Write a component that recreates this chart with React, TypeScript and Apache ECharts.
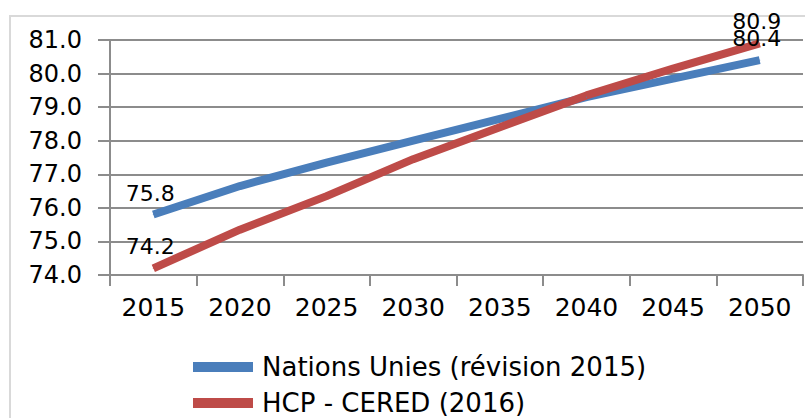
import React, { useEffect, useRef } from "react";
import * as echarts from "echarts";

const years = ["2015", "2020", "2025", "2030", "2035", "2040", "2045", "2050"];
const nationsUnies = [75.8, 76.65, 77.35, 78.0, 78.65, 79.3, 79.85, 80.4];
const hcpCered = [74.2, 75.35, 76.35, 77.45, 78.4, 79.35, 80.15, 80.9];
const seriesNames = ["Nations Unies (révision 2015)", "HCP - CERED (2016)"];
const seriesColors = ["#4a7ebb", "#be4b48"];

const FONT = "DejaVu Sans";
const GRID_GRAY = "#8c8c8c";

function withEndLabels(values: number[]) {
  return values.map((v, i) => ({
    value: v,
    label: { show: i === 0 || i === values.length - 1 },
  }));
}

export default function App() {
  const ref = useRef<HTMLDivElement>(null);
  useEffect(() => {
    document.body.style.margin = "0";
    const chart = echarts.init(ref.current!, undefined, { renderer: "svg" });
    const labelCfg = {
      position: "top" as const,
      distance: 10,
      offset: [-3, 0],
      color: "#000",
      fontFamily: FONT,
      fontSize: 22,
      formatter: (p: any) => Number(p.value).toFixed(1),
    };
    chart.setOption({
      animation: false,
      backgroundColor: "#fff",
      graphic: [
        {
          type: "rect",
          shape: { x: 10, y: 16, width: 1000, height: 1000 },
          style: { fill: "none", stroke: "#d9d9d9", lineWidth: 2 },
          silent: true,
          z: -1,
        },
      ],
      grid: { left: 110, right: 2, top: 40, bottom: 143 },
      legend: {
        orient: "vertical",
        left: 188,
        top: 349,
        height: 80,
        icon: "rect",
        itemWidth: 60,
        itemHeight: 10,
        itemGap: 10,
        textStyle: {
          fontFamily: FONT,
          fontSize: 26,
          lineHeight: 26,
          color: "#000",
          padding: [0, 0, 0, 4],
        },
        data: seriesNames,
      },
      xAxis: {
        type: "category",
        data: years,
        boundaryGap: true,
        axisLine: { show: true, lineStyle: { color: GRID_GRAY, width: 2 } },
        axisTick: { show: true, length: 11, lineStyle: { color: GRID_GRAY, width: 2 } },
        axisLabel: { fontFamily: FONT, fontSize: 25, color: "#000", margin: 20 },
      },
      yAxis: {
        type: "value",
        min: 74,
        max: 81,
        interval: 1,
        axisLine: { show: true, lineStyle: { color: GRID_GRAY, width: 2 } },
        axisTick: { show: true, length: 12, lineStyle: { color: GRID_GRAY, width: 2 } },
        splitLine: { show: true, lineStyle: { color: GRID_GRAY, width: 2 } },
        axisLabel: {
          fontFamily: FONT,
          fontSize: 24,
          color: "#000",
          margin: 28,
          formatter: (v: number) => v.toFixed(1),
        },
      },
      series: [
        {
          name: seriesNames[0],
          type: "line",
          data: withEndLabels(nationsUnies),
          symbol: "circle",
          symbolSize: 1,
          showSymbol: true,
          lineStyle: { color: seriesColors[0], width: 8 },
          itemStyle: { color: seriesColors[0] },
          label: labelCfg,
        },
        {
          name: seriesNames[1],
          type: "line",
          data: withEndLabels(hcpCered),
          symbol: "circle",
          symbolSize: 1,
          showSymbol: true,
          lineStyle: { color: seriesColors[1], width: 8 },
          itemStyle: { color: seriesColors[1] },
          label: labelCfg,
        },
      ],
    });
    return () => chart.dispose();
  }, []);
  return <div ref={ref} style={{ width: 805, height: 418, position: "fixed", left: 0, top: 0 }} />;
}
